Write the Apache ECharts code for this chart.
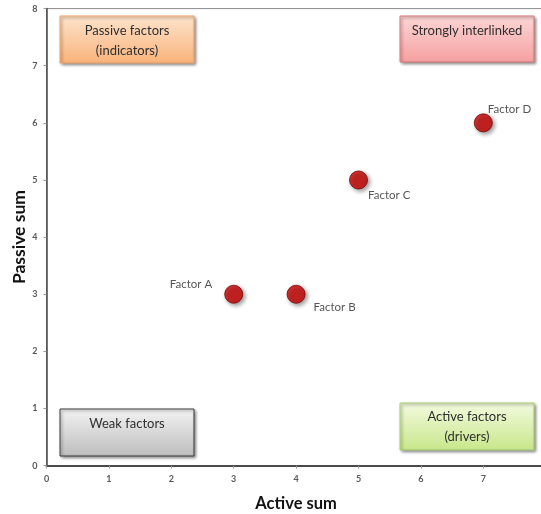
<!DOCTYPE html>
<html>
<head>
<meta charset="utf-8">
<script src="https://cdn.jsdelivr.net/npm/echarts@6/dist/echarts.min.js"></script>
<style>
  html, body { margin: 0; padding: 0; background: #fff; }
  #chart { width: 541px; height: 514px; }
</style>
</head>
<body>
<div id="chart"></div>
<script>
// Factor scores: active sum (influence on others) vs passive sum (influenced by others)
const factorNames = ['Factor A', 'Factor B', 'Factor C', 'Factor D'];
const activeSums  = [3, 4, 5, 7];
const passiveSums = [3, 3, 5, 6];
const axisTicks   = [0, 1, 2, 3, 4, 5, 6, 7, 8];

// Where each factor's name sits around its dot
const labelPlacement = {
  'Factor A': { position: 'left',  distance: 12, offset: [0, -10] },
  'Factor B': { position: 'right', distance: 8,  offset: [0, 13] },
  'Factor C': { position: 'right', distance: 0,  offset: [0, 15] },
  'Factor D': { position: 'right', distance: -5, offset: [0, -14] }
};

const FONT = 'Lato, "Open Sans", sans-serif';

const points = factorNames.map((name, i) => ({
  name: name,
  value: [activeSums[i], passiveSums[i]],
  label: Object.assign({ show: true, formatter: '{b}', color: '#2a2a2a', fontSize: 11.5, fontFamily: FONT },
                       labelPlacement[name])
}));

// Quadrant caption boxes
function quadrantBox(x, y, w, h, fill, border, lines, textY) {
  return {
    type: 'group',
    children: [
      {
        type: 'rect',
        shape: { x: x, y: y, width: w, height: h },
        style: {
          fill: { type: 'linear', x: 0, y: 0, x2: 0, y2: 1,
                  colorStops: [{ offset: 0, color: fill[0] }, { offset: 1, color: fill[1] }] },
          stroke: border, lineWidth: 1,
          shadowBlur: 3, shadowOffsetX: 1.5, shadowOffsetY: 1.5, shadowColor: 'rgba(0,0,0,0.45)'
        }
      },
      {
        type: 'text',
        style: {
          x: x + w / 2, y: textY, text: lines.join('\n'),
          textAlign: 'center', textVerticalAlign: 'top',
          fill: '#2f2f2f', font: '13px ' + FONT, lineHeight: 20
        }
      }
    ]
  };
}

const chart = echarts.init(document.getElementById('chart'));
chart.setOption({
  animation: false,
  grid: {
    left: 46.5, top: 8.6, width: 499.2, height: 457,
    outerBoundsMode: 'none', containLabel: false,
    show: true, borderColor: '#8c8c8c', borderWidth: 1
  },
  xAxis: {
    type: 'value', min: axisTicks[0], max: axisTicks[axisTicks.length - 1], interval: 1,
    name: 'Active sum', nameLocation: 'middle', nameGap: 30,
    nameTextStyle: { fontFamily: FONT, fontWeight: 'bold', fontSize: 16.5, color: '#111' },
    axisLine: { lineStyle: { color: '#4a4a4a', width: 2 } },
    axisTick: { show: true, length: 3, lineStyle: { color: '#999' } },
    axisLabel: { color: '#595959', fontSize: 9, fontWeight: 'bold', fontFamily: FONT, margin: 9 },
    splitLine: { show: false }
  },
  yAxis: {
    type: 'value', min: axisTicks[0], max: axisTicks[axisTicks.length - 1], interval: 1,
    name: 'Passive sum', nameLocation: 'middle', nameGap: 18, nameMoveOverlap: false,
    nameTextStyle: { fontFamily: FONT, fontWeight: 'bold', fontSize: 17.5, color: '#111' },
    axisLine: { lineStyle: { color: '#4a4a4a', width: 1.5 } },
    axisTick: { show: true, length: 3, lineStyle: { color: '#999' } },
    axisLabel: { color: '#595959', fontSize: 9, fontWeight: 'bold', fontFamily: FONT, margin: 9 },
    splitLine: { show: false }
  },
  series: [{
    type: 'scatter',
    symbol: 'circle',
    symbolSize: 18,
    data: points,
    itemStyle: {
      color: '#c80000', borderColor: '#7a0000', borderWidth: 1,
      shadowBlur: 4, shadowOffsetX: 2, shadowOffsetY: 2, shadowColor: 'rgba(0,0,0,0.5)'
    }
  }],
  graphic: [
    quadrantBox(60, 16, 134, 47, ['#fde4cc', '#f9b27a'], '#f0a26a', ['Passive factors', '(indicators)'], 21),
    quadrantBox(400, 16, 134, 46, ['#fcd6d6', '#f6a0a0'], '#d87878', ['Strongly interlinked'], 21),
    quadrantBox(60, 409, 134, 47, ['#f3f3f3', '#bdbdbd'], '#3a3a3a', ['Weak factors'], 414),
    quadrantBox(400, 403, 134, 47, ['#f3fadf', '#c8e78a'], '#a8cc70', ['Active factors', '(drivers)'], 407)
  ]
});
</script>
</body>
</html>
